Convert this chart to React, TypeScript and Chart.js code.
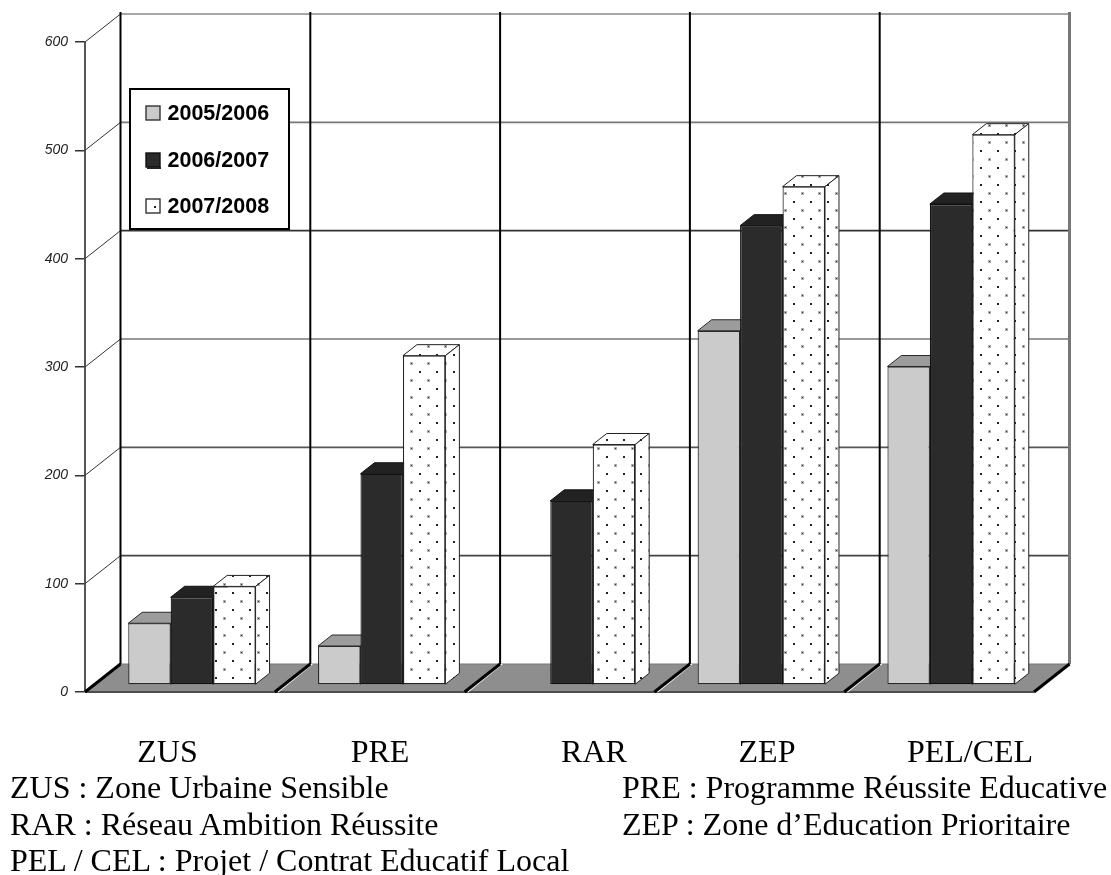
import React, { useEffect, useRef } from "react";
import { Chart, registerables } from "chart.js";

Chart.register(...registerables);

const categories = ["ZUS", "PRE", "RAR", "ZEP", "PEL/CEL"];
const seriesLabels = ["2005/2006", "2006/2007", "2007/2008"];
const values2005 = [57, 36, null, 327, 294];
const values2006 = [81, 195, 170, 424, 444];
const values2007 = [91, 304, 222, 460, 508];
const yTicks = [0, 100, 200, 300, 400, 500, 600];
const glossary = [
  "ZUS : Zone Urbaine Sensible",
  "PRE : Programme Réussite Educative",
  "RAR : Réseau Ambition Réussite",
  "ZEP : Zone d’Education Prioritaire",
  "PEL / CEL : Projet / Contrat Educatif Local",
];

// layout and style
const W = 1111;
const H = 875;
const WALL_DX = 35.5;
const WALL_DY = 28;
const BAR_DX = 12;
const BAR_DY = 7;
const DEPTH_X = 14;
const DEPTH_Y = 11;
const labelCenters = [167.5, 380, 594, 767, 970];
const LABEL_BASELINE = 762;
const glossaryPos = [
  [10, 798],
  [622, 798],
  [10, 835],
  [622, 835],
  [10, 871],
];
const wallLineColors = ["", "#444444", "#555555", "#777777", "#333333", "#777777", "#888888"];
const frontColors = ["#cbcbcb", "#2b2b2b"];
const topColors = ["#9c9c9c", "#222222"];
const sideColors = ["#8f8f8f", "#1c1c1c"];
const edgeColors = ["#2a2a2a", "#111111", "#222222"];

function makePattern(ctx: CanvasRenderingContext2D) {
  const tile = document.createElement("canvas");
  tile.width = 17;
  tile.height = 17;
  const t = tile.getContext("2d")!;
  t.fillStyle = "#ffffff";
  t.fillRect(0, 0, 17, 17);
  t.fillStyle = "#b0b0b0";
  t.fillRect(2, 5, 3, 3);
  t.fillStyle = "#333333";
  t.fillRect(3, 6, 1, 1);
  t.fillStyle = "#222222";
  t.fillRect(11, 14, 2, 2);
  const p = ctx.createPattern(tile, "repeat")!;
  p.setTransform(new DOMMatrix([1, 0, 0, 1, -BAR_DX, BAR_DY]));
  return p;
}

function poly(ctx: CanvasRenderingContext2D, pts: number[][], fill: any, stroke: string, lw = 1) {
  ctx.beginPath();
  pts.forEach((p, i) => (i ? ctx.lineTo(p[0], p[1]) : ctx.moveTo(p[0], p[1])));
  ctx.closePath();
  ctx.fillStyle = fill;
  ctx.fill();
  ctx.strokeStyle = stroke;
  ctx.lineWidth = lw;
  ctx.stroke();
}

function line(ctx: CanvasRenderingContext2D, x1: number, y1: number, x2: number, y2: number, color: string, lw: number) {
  ctx.beginPath();
  ctx.moveTo(x1, y1);
  ctx.lineTo(x2, y2);
  ctx.strokeStyle = color;
  ctx.lineWidth = lw;
  ctx.stroke();
}

const chart3d = {
  id: "chart3d",
  beforeDatasetsDraw(chart: any) {
    const { ctx, chartArea: a, scales } = chart;
    const y = scales.y;
    const x = scales.x;
    const step = (a.right - a.left) / categories.length;
    const base = y.getPixelForValue(0);
    ctx.save();
    // floor
    poly(
      ctx,
      [
        [a.left, base],
        [a.right, base],
        [a.right + WALL_DX, base - WALL_DY],
        [a.left + WALL_DX, base - WALL_DY],
      ],
      "#8e8e8e",
      "#777777"
    );
    line(ctx, a.left, base, a.right, base, "#4d4d4d", 2);
    // back wall horizontal lines and left-wall diagonals
    yTicks.forEach((v, i) => {
      const py = y.getPixelForValue(v);
      if (i > 0) {
        line(ctx, a.left + WALL_DX, py - WALL_DY, a.right + WALL_DX, py - WALL_DY, wallLineColors[i], 1.6);
        line(ctx, a.left, py, a.left + WALL_DX, py - WALL_DY, "#333333", 1);
      }
    });
    // back wall verticals and floor diagonals
    for (let i = 0; i <= categories.length; i++) {
      const px = x.getPixelForTick(Math.min(i, categories.length - 1)) + (i === categories.length ? step / 2 : -step / 2);
      const last = i === categories.length;
      line(ctx, px + WALL_DX, y.getPixelForValue(600) - WALL_DY - 2, px + WALL_DX, base - WALL_DY, last ? "#777777" : "#000000", last ? 3 : 2);
      if (!last && i > 0) line(ctx, px + 3, base, px + WALL_DX + 2, base - WALL_DY, "#ffffff", 1.5);
      line(ctx, px, base, px + WALL_DX, base - WALL_DY, "#000000", 3);
    }
    ctx.restore();
  },
  beforeDatasetDraw() {
    return false;
  },
  afterDatasetsDraw(chart: any) {
    const { ctx, data } = chart;
    const pattern = data.datasets[2].backgroundColor;
    ctx.save();
    ctx.translate(BAR_DX, -BAR_DY);
    categories.forEach((_, i) => {
      data.datasets.forEach((ds: any, j: number) => {
        if (ds.data[i] == null) return;
        const el = chart.getDatasetMeta(j).data[i];
        const { x, y, base, width } = el.getProps(["x", "y", "base", "width"], true);
        const l = x - width / 2;
        const r = x + width / 2;
        const edge = edgeColors[j];
        poly(
          ctx,
          [
            [l, y],
            [r, y],
            [r + DEPTH_X, y - DEPTH_Y],
            [l + DEPTH_X, y - DEPTH_Y],
          ],
          j === 2 ? pattern : topColors[j],
          edge
        );
        poly(
          ctx,
          [
            [r, y],
            [r + DEPTH_X, y - DEPTH_Y],
            [r + DEPTH_X, base - DEPTH_Y],
            [r, base],
          ],
          j === 2 ? pattern : sideColors[j],
          edge
        );
        el.draw(ctx);
      });
    });
    ctx.restore();

    // legend box
    ctx.save();
    ctx.fillStyle = "#ffffff";
    ctx.fillRect(130, 89, 159, 140);
    ctx.strokeStyle = "#000000";
    ctx.lineWidth = 2;
    ctx.strokeRect(130, 89, 159, 140);
    const rows = [113, 160, 206];
    data.datasets.forEach((ds: any, j: number) => {
      const cy = rows[j];
      ctx.fillStyle = j === 2 ? "#ffffff" : frontColors[j];
      ctx.fillRect(146, cy - 7, 14, 14);
      ctx.strokeStyle = j === 1 ? "#111111" : "#333333";
      ctx.lineWidth = 1.4;
      ctx.strokeRect(146, cy - 7, 14, 14);
      if (j === 1) {
        ctx.fillStyle = "#222222";
        ctx.fillRect(147, cy + 7, 14, 2);
      }
      if (j === 2) {
        ctx.fillStyle = "#222222";
        ctx.fillRect(154, cy, 2, 2);
      }
      ctx.fillStyle = "#000000";
      ctx.font = 'bold 21.5px "Liberation Sans"';
      ctx.textAlign = "left";
      ctx.textBaseline = "middle";
      ctx.fillText(ds.label, 167.5, cy + 1);
    });
    // category names, typed under the chart
    ctx.fillStyle = "#000000";
    ctx.font = '32px "Liberation Serif"';
    ctx.textAlign = "center";
    ctx.textBaseline = "alphabetic";
    categories.forEach((c, i) => ctx.fillText(c, labelCenters[i], LABEL_BASELINE));
    ctx.restore();
  },
};

export default function App() {
  const ref = useRef<HTMLCanvasElement>(null);
  useEffect(() => {
    const ctx = ref.current!.getContext("2d")!;
    const pattern = makePattern(ctx);
    const edge = { borderWidth: 1.2, borderSkipped: false, barPercentage: 1, categoryPercentage: 0.671 };
    const chart = new Chart(ctx, {
      type: "bar",
      data: {
        labels: categories,
        datasets: [
          { label: seriesLabels[0], data: values2005, backgroundColor: frontColors[0], borderColor: edgeColors[0], ...edge },
          { label: seriesLabels[1], data: values2006, backgroundColor: frontColors[1], borderColor: edgeColors[1], ...edge },
          { label: seriesLabels[2], data: values2007, backgroundColor: pattern, borderColor: edgeColors[2], ...edge },
        ],
      } as any,
      options: {
        responsive: false,
        animation: false,
        layout: { padding: { left: 0, right: 77, top: 42, bottom: 183 } },
        plugins: { legend: { display: false }, tooltip: { enabled: false } },
        scales: {
          x: {
            grid: { display: false },
            border: { display: false },
            ticks: { display: false },
            afterFit: (s: any) => {
              s.height = 0;
            },
          },
          y: {
            min: 0,
            max: 600,
            ticks: {
              stepSize: 100,
              padding: 7,
              color: "#222222",
              font: { family: '"Liberation Sans"', size: 14, style: "italic" },
            },
            grid: { drawOnChartArea: false, drawTicks: true, tickLength: 10, color: "#333333", lineWidth: 1.5 },
            border: { display: true, color: "#555555", width: 2 },
            afterFit: (s: any) => {
              s.width = 85;
            },
          },
        },
      } as any,
      plugins: [chart3d as any],
    });
    return () => chart.destroy();
  }, []);
  return (
    <div style={{ position: "absolute", left: 0, top: 0, width: W, height: H, overflow: "hidden", background: "#fff" }}>
      <canvas ref={ref} width={W} height={H} style={{ display: "block" }} />
      {glossary.map((g, i) => (
        <div
          key={g}
          style={{
            position: "absolute",
            left: glossaryPos[i][0],
            top: glossaryPos[i][1] - 29,
            font: '32px/36px "Liberation Serif"',
            whiteSpace: "nowrap",
            color: "#000",
          }}
        >
          {g}
        </div>
      ))}
    </div>
  );
}
